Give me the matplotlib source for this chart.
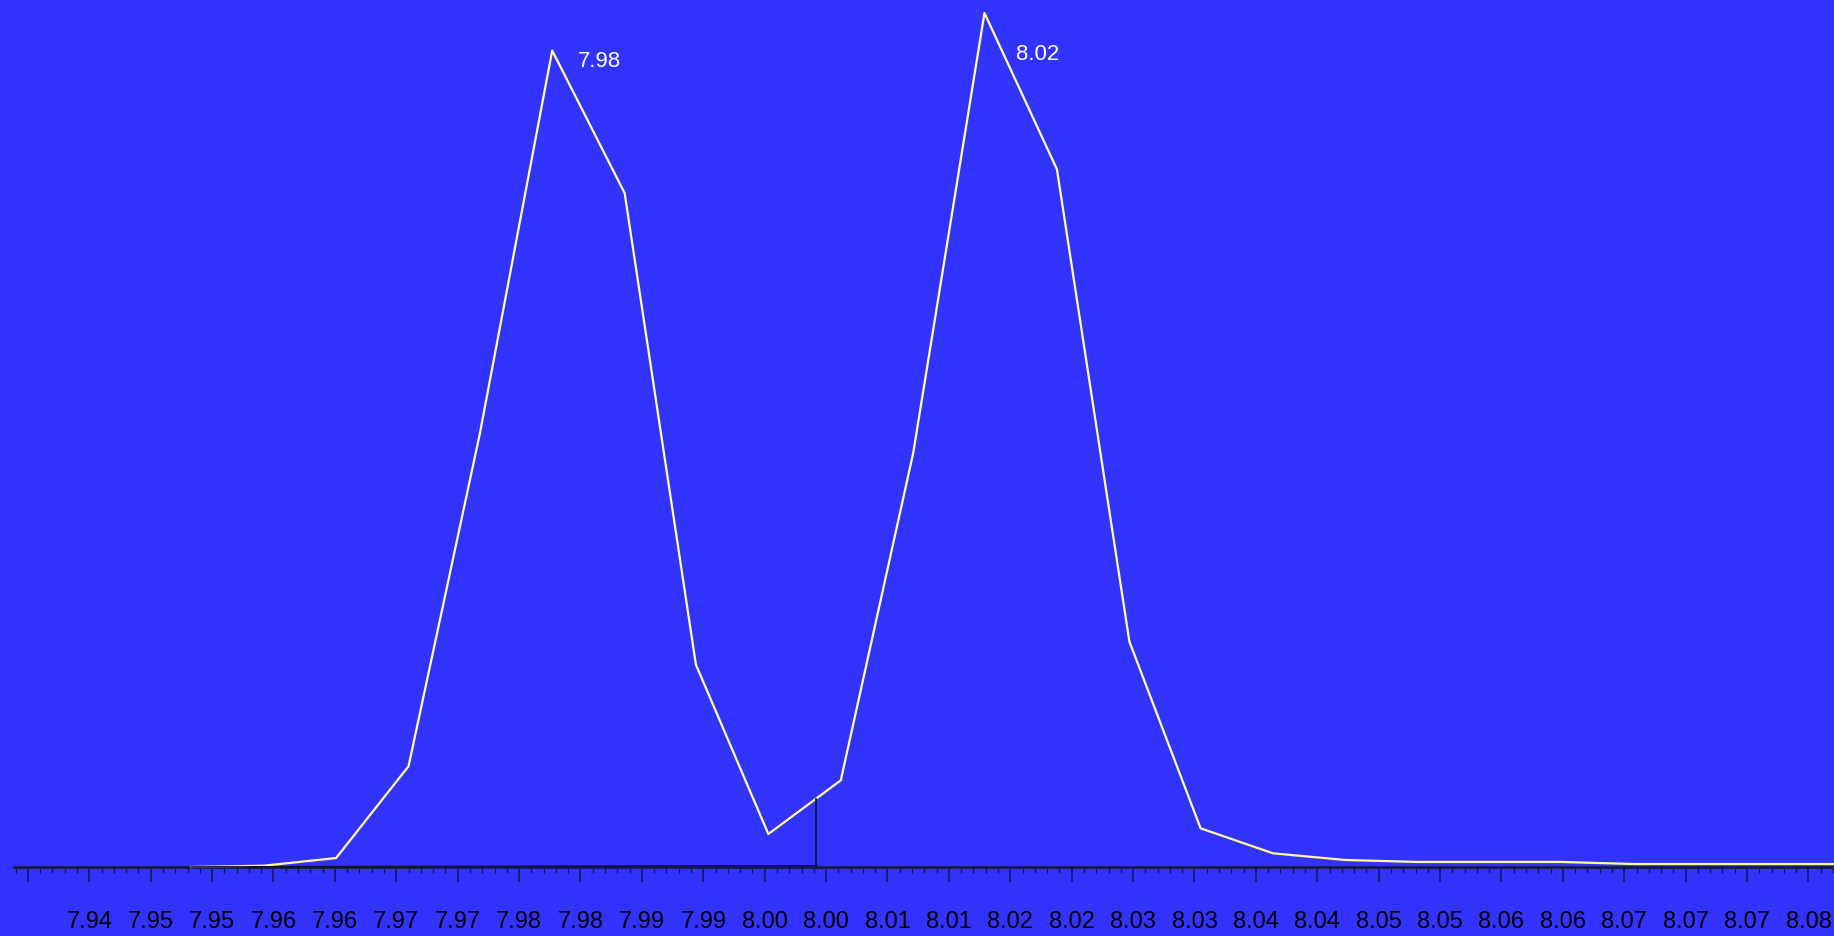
import numpy as np
import matplotlib
matplotlib.use("Agg")
import matplotlib.pyplot as plt
from matplotlib.ticker import FixedLocator

# m/z of each scan point and relative intensity (% of largest peak)
mz = [7.9483, 7.9542, 7.9601, 7.9660, 7.9718, 7.9777, 7.9836, 7.9894,
      7.9953, 8.0012, 8.0071, 8.0129, 8.0188, 8.0247, 8.0305, 8.0364,
      8.0423, 8.0482, 8.0540, 8.0599, 8.0658, 8.0716, 8.0775, 8.0834]
intensity = [0.0, 0.15, 1.05, 11.8, 50.7, 95.6, 78.9, 23.7,
             3.86, 10.15, 48.5, 100.0, 81.7, 26.4, 4.53, 1.60,
             0.82, 0.59, 0.59, 0.59, 0.35, 0.35, 0.35, 0.35]

# peak labels (index of apex point, text)
peak_idx = [5, 11]
peak_text = ["7.98", "8.02"]

# integration marker: baseline from first point to split position
split_mz = 7.9992
baseline_end = 0.15

# axis ticks as shown in the viewer
major_ticks = list(np.linspace(7.935, 8.080, 30))
minor_ticks = list(np.linspace(7.934, 8.082, 149))
tick_labels = ["", "7.94", "7.95", "7.95", "7.96", "7.96", "7.97", "7.97",
               "7.98", "7.98", "7.99", "7.99", "8.00", "8.00", "8.01", "8.01",
               "8.02", "8.02", "8.03", "8.03", "8.04", "8.04", "8.05", "8.05",
               "8.06", "8.06", "8.07", "8.07", "8.07", "8.08"]

BG = "#3333ff"
TRACE = "#ffff99"
AXIS = "#16165c"

fig = plt.figure(figsize=(18.34, 9.37), dpi=100, facecolor=BG)
ax = fig.add_axes([0, 0, 1, 1], facecolor=BG)

ax.plot(mz, intensity, color=TRACE, linewidth=1.6, zorder=2)

# baseline + split line
split_top = np.interp(split_mz, mz, intensity)
ax.plot([mz[0], split_mz], [intensity[0], baseline_end], color="#111133",
        linewidth=1.2, zorder=3)
ax.plot([split_mz, split_mz], [baseline_end, split_top], color="#111133",
        linewidth=1.2, zorder=3)

offsets = [(26, -10), (32, -40)]
for i, t, off in zip(peak_idx, peak_text, offsets):
    ax.annotate(t, xy=(mz[i], intensity[i]), xytext=off,
                textcoords="offset pixels", color="white", fontsize=16,
                family=["Liberation Sans", "DejaVu Sans"],
                ha="left", va="center")

ax.set_xlim(7.93273, 8.08208)
ax.set_ylim(-8.08, 101.64)

for s in ["top", "left", "right"]:
    ax.spines[s].set_visible(False)
ax.spines["bottom"].set_position(("data", 0))
ax.spines["bottom"].set_bounds(7.9339, 8.08208)
ax.spines["bottom"].set_color(AXIS)
ax.spines["bottom"].set_linewidth(2)
ax.spines["bottom"].set_zorder(1)

ax.xaxis.set_major_locator(FixedLocator(major_ticks))
ax.set_xticklabels(tick_labels)
ax.xaxis.set_minor_locator(FixedLocator(minor_ticks))
ax.tick_params(axis="x", which="major", direction="out", length=10.8,
               width=1.2, color=AXIS, pad=20, labelsize=17,
               labelcolor="black")
ax.tick_params(axis="x", which="minor", direction="out", length=4.3,
               width=1.0, color=AXIS)
for lab in ax.get_xticklabels():
    lab.set_family(["Liberation Sans", "DejaVu Sans"])
ax.set_yticks([])

fig.savefig("out.png", dpi=100, facecolor=BG)
